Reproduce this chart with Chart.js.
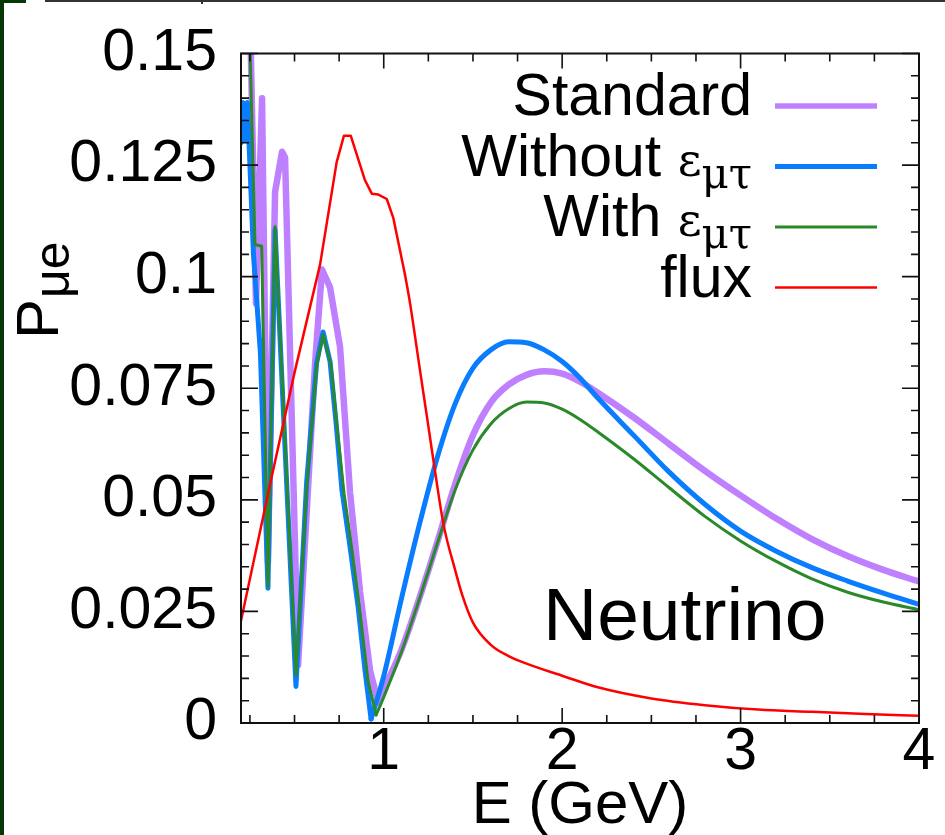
<!DOCTYPE html>
<html lang="en">
<head>
<meta charset="UTF-8">
<title>P(mu e) vs E - Neutrino</title>
<script src="https://cdn.jsdelivr.net/npm/chart.js@4"></script>
<style>
  html, body { margin: 0; padding: 0; background: #fff; }
  .frame { position: relative; width: 945px; height: 835px; overflow: hidden; background: #fff; }
  .frame canvas { position: absolute; left: 0; top: 0; }
  /* strip of the neighbouring panel that shows at the edges */
  .edge-left { position: absolute; left: 0; top: 0; width: 4px; height: 835px; background: #053805; z-index: 2; }
  .edge-corner { position: absolute; left: 0; top: 0; width: 26px; height: 3px; background: #053805; z-index: 2; }
  .edge-top { position: absolute; left: 45px; top: 0; width: 900px; height: 2px; background: #333; z-index: 2; }
  .edge-tick { position: absolute; left: 201px; top: 0; width: 2px; height: 4px; background: #333; z-index: 2; }
</style>
</head>
<body>
<div class="frame">
  <div class="edge-left"></div>
  <div class="edge-corner"></div>
  <div class="edge-top"></div>
  <div class="edge-tick"></div>
  <canvas id="prob" width="945" height="835"></canvas>
</div>

<script>
// axis ticks
const xTicks = [1, 2, 3, 4];
const xTickLabels = ['1', '2', '3', '4'];
const xMinorStep = 0.25;
const yTicks = [0, 0.025, 0.05, 0.075, 0.1, 0.125, 0.15];
const yTickLabels = ['0', '0.025', '0.05', '0.075', '0.1', '0.125', '0.15'];
const yMinorStep = 0.005;

// Standard oscillation
const stdE = [0.20, 0.245, 0.284, 0.318, 0.351, 0.391, 0.43, 0.447, 0.52, 0.615, 0.654, 0.699, 0.755, 0.811, 0.867, 0.923, 0.968,
              1.0, 1.1, 1.2, 1.3, 1.4, 1.5, 1.6, 1.7, 1.8, 1.9, 2.0, 2.1, 2.2, 2.4, 2.6, 2.8, 3.0, 3.2, 3.4, 3.6, 3.8, 4.0];
const stdP = [0.190, 0.170, 0.094, 0.140, 0.036, 0.119, 0.128, 0.1267, 0.013, 0.0805, 0.1016, 0.0976, 0.0843, 0.0517, 0.0295, 0.0118, 0.0047,
              0.0075, 0.0165, 0.0280, 0.0405, 0.0535, 0.0645, 0.0718, 0.0758, 0.0780, 0.0788, 0.0783, 0.0765, 0.0740, 0.0685, 0.0625, 0.0565, 0.0510, 0.0458, 0.0412, 0.0374, 0.0343, 0.0317];

// without eps_mu_tau
const noNsiE = [0.20, 0.211, 0.225, 0.236, 0.27, 0.309, 0.351, 0.391, 0.508, 0.568, 0.624, 0.66, 0.699, 0.733, 0.766, 0.811, 0.856, 0.895, 0.929,
                1.0, 1.1, 1.2, 1.3, 1.4, 1.5, 1.6, 1.7, 1.8, 1.9, 2.0, 2.1, 2.2, 2.4, 2.6, 2.8, 3.0, 3.2, 3.4, 3.6, 3.8, 4.0];
const noNsiP = [0.130, 0.139, 0.1305, 0.139, 0.105, 0.0828, 0.0302, 0.1105, 0.0082, 0.054, 0.0807, 0.0876, 0.081, 0.0672, 0.0521, 0.0395, 0.0262, 0.0118, 0.0009,
                0.0105, 0.0280, 0.0445, 0.0595, 0.0715, 0.0795, 0.0836, 0.0854, 0.0852, 0.0836, 0.0810, 0.0773, 0.0728, 0.0645, 0.0562, 0.0490, 0.0430, 0.0385, 0.0348, 0.0318, 0.0291, 0.0266];

// with eps_mu_tau
const nsiE = [0.20, 0.24, 0.2785, 0.316, 0.351, 0.391, 0.508, 0.568, 0.624, 0.66, 0.705, 0.738, 0.778, 0.823, 0.867, 0.912, 0.957,
              1.0, 1.1, 1.2, 1.3, 1.4, 1.5, 1.6, 1.7, 1.8, 1.9, 2.0, 2.1, 2.2, 2.4, 2.6, 2.8, 3.0, 3.2, 3.4, 3.6, 3.8, 4.0];
const nsiP = [0.190, 0.168, 0.1072, 0.1068, 0.0306, 0.1112, 0.0107, 0.0525, 0.0801, 0.0870, 0.0801, 0.0663, 0.0513, 0.0384, 0.0246, 0.0095, 0.0018,
              0.0058, 0.0160, 0.0278, 0.0402, 0.0522, 0.0612, 0.0670, 0.0704, 0.0719, 0.0717, 0.0703, 0.0680, 0.0652, 0.0592, 0.0527, 0.0463, 0.0408, 0.0362, 0.0323, 0.0293, 0.0271, 0.0254];

// beam flux (arbitrary units, same axis)
const fluxE = [0.20, 0.363, 0.50, 0.643, 0.736, 0.777, 0.815, 0.895, 0.933, 0.970, 1.017, 1.054, 1.119, 1.148, 1.2, 1.25, 1.286, 1.335,
               1.4, 1.443, 1.5, 1.6, 1.7, 1.8, 2.0, 2.2, 2.5, 2.8, 3.1, 3.4, 3.7, 4.0];
const fluxP = [0.0229, 0.0535, 0.0785, 0.1027, 0.1256, 0.1316, 0.1316, 0.1216, 0.1186, 0.1184, 0.1174, 0.1131, 0.1005, 0.0939, 0.0799, 0.0665, 0.0568, 0.0445,
               0.0343, 0.0283, 0.0225, 0.0175, 0.0150, 0.0133, 0.0106, 0.0080, 0.0055, 0.0040, 0.0030, 0.0025, 0.0020, 0.0016];

const SANS = '"Liberation Sans", Arial, Helvetica, sans-serif';
const GREEK = '"DejaVu Serif", "Liberation Serif", serif';

// each curve: coarse straight segments below `smoothFrom`, smooth curve above it
const series = [
  { label: 'Standard', e: stdE, p: stdP, smoothFrom: 0.968, color: '#bf80ff', width: 6.5,
    key: [['Standard', '59px ' + SANS, 0]] },
  { label: 'Without', e: noNsiE, p: noNsiP, smoothFrom: 0.929, color: '#0a7dff', width: 5,
    key: [['Without ', '59px ' + SANS, 0], ['\u03b5', '46px ' + GREEK, 0], ['\u03bc\u03c4', '42px ' + GREEK, 12]] },
  { label: 'With', e: nsiE, p: nsiP, smoothFrom: 0.957, color: '#2a8a2a', width: 3,
    key: [['With ', '59px ' + SANS, 0], ['\u03b5', '46px ' + GREEK, 0], ['\u03bc\u03c4', '42px ' + GREEK, 12]] },
  { label: 'flux', e: fluxE, p: fluxP, smoothFrom: 1.119, color: '#ff0000', width: 2.5,
    key: [['flux', '59px ' + SANS, 0]] }
];

function pts(e, p, keep) {
  const out = [];
  e.forEach((v, i) => { if (keep(v)) out.push({ x: v, y: p[i] }); });
  return out;
}

const datasets = [];
series.forEach((s, i) => {
  const order = series.length - i;
  datasets.push({ label: s.label, data: pts(s.e, s.p, v => v <= s.smoothFrom), borderColor: s.color,
                  borderWidth: s.width, order: order, tension: 0 });
  datasets.push({ label: s.label, data: pts(s.e, s.p, v => v >= s.smoothFrom), borderColor: s.color,
                  borderWidth: s.width, order: order, cubicInterpolationMode: 'monotone' });
});

// box, inward ticks on all four sides, titles, legend and the panel tag
const decorations = {
  id: 'decorations',
  afterDraw(chart) {
    const { ctx, chartArea: a, scales: { x, y } } = chart;
    ctx.save();

    ctx.strokeStyle = '#111';
    ctx.lineWidth = 2;
    ctx.strokeRect(a.left, a.top, a.right - a.left, a.bottom - a.top);

    ctx.lineWidth = 1.6;
    ctx.beginPath();
    for (let v = xMinorStep; v <= x.max + 1e-9; v += xMinorStep) {
      if (v < x.min) continue;
      const px = x.getPixelForValue(v);
      const len = xTicks.some(t => Math.abs(t - v) < 1e-6) ? 15 : 8;
      ctx.moveTo(px, a.bottom); ctx.lineTo(px, a.bottom - len);
      ctx.moveTo(px, a.top); ctx.lineTo(px, a.top + len);
    }
    for (let v = y.min; v <= y.max + 1e-9; v += yMinorStep) {
      const py = y.getPixelForValue(v);
      const len = yTicks.some(t => Math.abs(t - v) < 1e-6) ? 17 : 8;
      ctx.moveTo(a.left, py); ctx.lineTo(a.left + len, py);
      ctx.moveTo(a.right, py); ctx.lineTo(a.right - len, py);
    }
    ctx.stroke();

    ctx.fillStyle = '#000';
    ctx.textBaseline = 'alphabetic';

    // x title
    ctx.font = '60px ' + SANS;
    ctx.textAlign = 'center';
    ctx.fillText('E (GeV)', (a.left + a.right) / 2, a.bottom + 100);

    // y title, rotated, with subscript
    ctx.save();
    ctx.translate(58, 339);
    ctx.rotate(-Math.PI / 2);
    ctx.textAlign = 'left';
    ctx.font = '60px ' + SANS;
    ctx.fillText('P', 0, 0);
    const pw = ctx.measureText('P').width;
    ctx.font = '50px ' + SANS;
    ctx.fillText('\u03bce', pw + 1, 11);
    ctx.restore();

    // panel tag
    ctx.font = '75px ' + SANS;
    ctx.textAlign = 'left';
    ctx.fillText('Neutrino', 543, 640);

    // legend, right aligned text with a line sample
    const textRight = 752;
    series.forEach((s, i) => {
      const base = 115 + i * 60.5;
      let total = 0;
      s.key.forEach(([t, f]) => { ctx.font = f; total += ctx.measureText(t).width; });
      let cx = textRight - total;
      s.key.forEach(([t, f, dy]) => {
        ctx.font = f;
        ctx.fillText(t, cx, base + dy);
        cx += ctx.measureText(t).width;
      });
      ctx.strokeStyle = s.color;
      ctx.lineWidth = Math.min(s.width, 5.5);
      ctx.beginPath();
      ctx.moveTo(775, base - 9);
      ctx.lineTo(877, base - 9);
      ctx.stroke();
    });

    ctx.restore();
  }
};

new Chart(document.getElementById('prob'), {
  type: 'line',
  data: { datasets: datasets },
  options: {
    responsive: false,
    animation: false,
    devicePixelRatio: 1,
    layout: { padding: { top: 47, right: 26, bottom: 0, left: 0 } },
    elements: {
      point: { radius: 0, hoverRadius: 0 },
      line: { borderJoinStyle: 'round', borderCapStyle: 'round', fill: false }
    },
    datasets: { line: { clip: 0 } },
    plugins: { legend: { display: false }, tooltip: { enabled: false } },
    scales: {
      x: {
        type: 'linear',
        min: 0.2,
        max: 4,
        afterFit: s => { s.height = 112; },
        afterBuildTicks: s => { s.ticks = xTicks.map(v => ({ value: v })); },
        grid: { display: false, drawTicks: false },
        border: { display: false },
        ticks: {
          padding: 0,
          autoSkip: false,
          maxRotation: 0,
          color: '#000',
          font: { family: SANS, size: 59, lineHeight: 1 },
          callback: (v, i) => xTickLabels[i]
        }
      },
      y: {
        type: 'linear',
        min: 0,
        max: 0.15,
        afterFit: s => { s.width = 241; },
        afterBuildTicks: s => { s.ticks = yTicks.map(v => ({ value: v })); },
        grid: { display: false, drawTicks: false },
        border: { display: false },
        ticks: {
          padding: 24,
          color: '#000',
          font: { family: SANS, size: 59, lineHeight: 1 },
          callback: (v, i) => yTickLabels[i]
        }
      }
    }
  },
  plugins: [decorations]
});
</script>
</body>
</html>
